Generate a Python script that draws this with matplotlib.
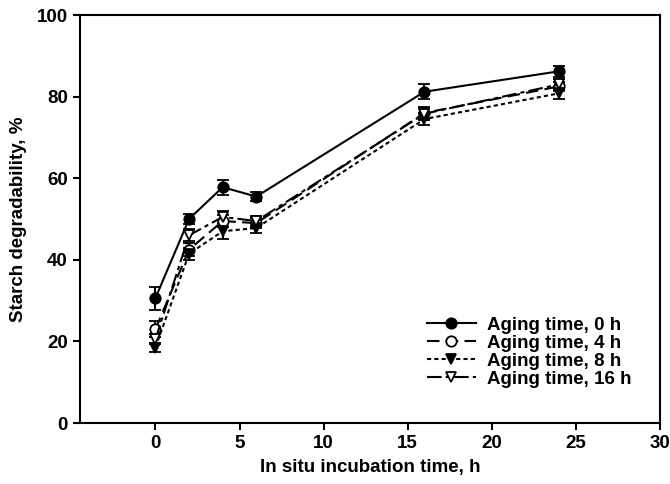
import numpy as np
import matplotlib.pyplot as plt

plt.rcParams['font.family'] = ['Liberation Sans', 'DejaVu Sans']
plt.rcParams['font.weight'] = 'bold'

# ================== data ==================
hours = [0, 2, 4, 6, 16, 24]
labels = ['Aging time, 0 h', 'Aging time, 4 h', 'Aging time, 8 h', 'Aging time, 16 h']

deg_0h = [30.6, 50.0, 57.8, 55.5, 81.2, 86.2]
err_0h = [2.8, 1.2, 1.8, 1.2, 1.8, 1.3]
deg_4h = [23.0, 42.5, 49.5, 49.0, 76.0, 82.5]
err_4h = [2.0, 1.5, 1.5, 1.2, 1.5, 1.2]
deg_8h = [18.5, 41.5, 47.0, 47.8, 74.5, 80.8]
err_8h = [1.2, 1.5, 2.0, 1.2, 1.5, 1.5]
deg_16h = [20.5, 46.0, 50.5, 49.5, 75.8, 83.0]
err_16h = [1.2, 1.5, 1.5, 1.2, 1.5, 1.2]
# ===========================================

fig = plt.figure(figsize=(6.7, 4.84), dpi=100)
ax = fig.add_axes([0.119, 0.126, 0.866, 0.843])

series = [
    (deg_0h, err_0h, 'o', 'k', '-'),
    (deg_4h, err_4h, 'o', 'white', (0, (6, 3))),
    (deg_8h, err_8h, 'v', 'k', (0, (2, 1.5))),
    (deg_16h, err_16h, 'v', 'white', (0, (7, 2, 2, 2))),
]

for (y, e, m, fc, ls), lab in zip(series, labels):
    ax.errorbar(hours, y, yerr=e, marker=m, markersize=7.5, markerfacecolor=fc,
                markeredgecolor='k', markeredgewidth=1.3, color='k',
                linestyle=ls, linewidth=1.5, capsize=4.5, capthick=1.5,
                elinewidth=1.5, label=lab)

ax.set_xlim(-4.5, 30)
ax.set_ylim(0, 100)
ax.set_xticks([0, 5, 10, 15, 20, 25, 30])
ax.set_yticks([0, 20, 40, 60, 80, 100])
ax.tick_params(labelsize=13.5, width=1.5, length=5)
for lbl in ax.get_xticklabels() + ax.get_yticklabels():
    lbl.set_fontweight('bold')
for sp in ax.spines.values():
    sp.set_linewidth(1.5)

ax.set_xlabel('In situ incubation time, h', fontsize=13.5, fontweight='bold', labelpad=5)
ax.set_ylabel('Starch degradability, %', fontsize=13.5, fontweight='bold', labelpad=7)

handles, labs = ax.get_legend_handles_labels()
handles = [h[0] for h in handles]
ax.legend(handles, labs, loc='lower right', frameon=False,
          handlelength=2.6, handletextpad=0.6, labelspacing=0.05,
          bbox_to_anchor=(0.98, 0.045), prop={'weight': 'bold', 'size': 13.5})

fig.savefig('out.png', dpi=100)
